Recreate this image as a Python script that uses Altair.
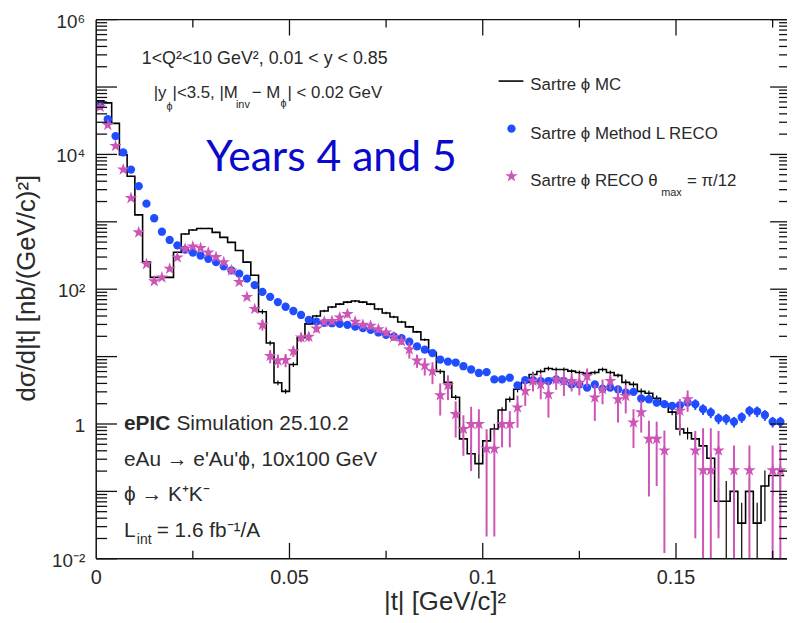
import altair as alt
import numpy as np
import pandas as pd

# ---------------- data ----------------
bin_width = 0.002
n_bins = 89

# Sartre phi MC (histogram, per bin)
mc = [62300, 58200, 28900, 9900, 4750, 1268, 252, 150, 150, 150,
      354, 659, 755, 797, 797, 697, 588, 496, 375, 252,
      161, 46.4, 15.9, 4.10, 3.05, 7.63, 19.0, 30.6, 40.1, 47.5,
      54.4, 60.1, 64.4, 66.7, 64.4, 60.1, 50.8, 44.4, 38.7, 32.7,
      27.6, 23.3, 17.8, 11.5, 6.01, 4.15, 2.49, 0.601, 0.362, 0.258,
      0.562, 0.843, 1.61, 2.33, 3.27, 4.15, 5.43, 6.01, 6.66, 6.44,
      6.44, 6.08, 5.82, 5.63, 5.82, 6.44, 5.82, 5.26, 4.15, 3.87,
      3.05, 2.86, 2.41, 1.97, 1.50, 0.843, 0.738, 0.601, 0.474, 0.31,
      0.0713, 0.0713, 0.1, 0.0338, 0.1, 0.0338, 0.12, 0.172, 0.172]
mc_relerr = [0.02, 0.02, 0.02, 0.02, 0.02, 0.02, 0.02, 0.02, 0.02, 0.02,
             0.02, 0.02, 0.02, 0.02, 0.02, 0.02, 0.02, 0.02, 0.02, 0.02,
             0.02, 0.08, 0.08, 0.08, 0.08, 0.08, 0.04, 0.04, 0.04, 0.04,
             0.04, 0.04, 0.04, 0.04, 0.04, 0.04, 0.04, 0.04, 0.04, 0.04,
             0.04, 0.04, 0.04, 0.08, 0.08, 0.08, 0.08, 0.25, 0.3, 0.4,
             0.25, 0.2, 0.1, 0.1, 0.1, 0.1, 0.1, 0.07, 0.07, 0.07,
             0.07, 0.07, 0.07, 0.07, 0.07, 0.07, 0.07, 0.07, 0.1, 0.1,
             0.1, 0.1, 0.1, 0.1, 0.1, 0.2, 0.2, 0.2, 0.2, 0.2,
             0.6, 1.0, 0.6, 1.0, 0.6, 1.0, 0.7, 0.5, 0.5]

# Sartre phi Method L RECO (blue points)
blue = [53000, 33300, 18700, 10700, 5960, 3380, 1860, 1130, 713, 538,
        448, 387, 350, 316, 283, 252, 218, 190, 170, 144,
        115, 91.2, 77.1, 64.4, 54.9, 47.5, 41.5, 35.0, 33.0, 31.6,
        31.3, 30.6, 29.6, 27.9, 26.4, 24.9, 22.8, 21.1, 19.9, 18.8,
        16.6, 14.2, 12.7, 11.3, 9.04, 8.44, 8.16, 7.20, 6.44, 5.72,
        5.88, 4.59, 4.59, 4.86, 3.75, 4.48, 4.48, 4.34, 4.34, 4.59,
        4.34, 3.87, 3.87, 3.46, 3.87, 3.35, 3.46, 3.27, 2.93, 2.99,
        2.39, 2.33, 2.08, 1.97, 1.86, 1.90, 2.08, 1.97, 1.66, 1.49,
        1.21, 1.19, 1.08, 1.26, 1.57, 1.54, 1.36, 1.08, 1.08]
blue_relerr = [0.02, 0.02, 0.02, 0.02, 0.02, 0.02, 0.02, 0.02, 0.02, 0.02,
               0.02, 0.02, 0.02, 0.02, 0.02, 0.02, 0.02, 0.02, 0.02, 0.02,
               0.02, 0.02, 0.02, 0.02, 0.02, 0.02, 0.02, 0.02, 0.02, 0.02,
               0.02, 0.02, 0.02, 0.02, 0.02, 0.02, 0.02, 0.02, 0.02, 0.02,
               0.04, 0.04, 0.04, 0.04, 0.04, 0.04, 0.04, 0.04, 0.04, 0.04,
               0.07, 0.07, 0.07, 0.07, 0.07, 0.07, 0.07, 0.07, 0.07, 0.07,
               0.1, 0.1, 0.1, 0.1, 0.1, 0.1, 0.1, 0.1, 0.1, 0.1,
               0.12, 0.12, 0.12, 0.12, 0.12, 0.12, 0.12, 0.18, 0.18, 0.18,
               0.18, 0.18, 0.18, 0.18, 0.18, 0.18, 0.18, 0.18, 0.18]

# Sartre phi RECO theta_max = pi/12 (pink stars); None = empty bin
pink = [50800, 27300, 13300, 5960, 2250, 697, 236, 131, 149, 201,
        296, 397, 429, 408, 350, 299, 252, 190, 128, 76.5,
        50.8, 29.6, 10.2, 8.73, 8.93, 12.0, 19.2, 19.7, 26.0, 33.0,
        33.8, 38.1, 42.9, 33.0, 29.6, 28.6, 25.5, 22.8, 19.5, 16.9,
        12.8, 8.73, 7.38, 6.08, 2.67, 3.77, 1.40, 0.843, 1.0, 1.0,
        0.429, 0.429, 1.0, 1.0, 1.76, 3.09, 4.34, 3.87, 2.76, 4.59,
        4.34, 4.34, 4.10, 5.13, 2.47, 3.27, 4.34, 2.33, 2.61, 1.05,
        1.49, 0.601, 0.601, 0.405, None, 1.57, 2.33, 0.405, 0.206, 0.206,
        0.405, None, 0.206, None, 0.206, None, None, 0.206, 0.206]
pink_relerr = [0.03, 0.03, 0.03, 0.03, 0.03, 0.03, 0.03, 0.03, 0.03, 0.03,
               0.03, 0.05, 0.05, 0.05, 0.05, 0.05, 0.05, 0.05, 0.05, 0.05,
               0.05, 0.18, 0.22, 0.22, 0.22, 0.18, 0.15, 0.15, 0.12, 0.12,
               0.12, 0.12, 0.12, 0.12, 0.12, 0.12, 0.12, 0.12, 0.12, 0.12,
               0.27, 0.22, 0.29, 0.36, 0.5, 0.4, 0.55, 0.6, 0.8, 0.65,
               0.95, 0.95, 0.55, 0.55, 0.5, 0.4, 0.3, 0.4, 0.55, 0.3,
               0.4, 0.3, 0.35, 0.3, 0.55, 0.4, 0.25, 0.55, 0.45, 0.58,
               0.5, 0.86, 0.8, 0.97, None, 0.5, 0.35, 0.95, 3.2, 3.2,
               0.95, None, 1.33, None, 1.33, None, None, 1.33, 1.33]

# axis ticks / labels
y_label_vals = [1e-2, 1, 1e2, 1e4, 1e6]
y_label_text = ["10\u207b\u00b2", "1", "10\u00b2", "10\u2074", "10\u2076"]
y_major = [1e-2, 1e-1, 1, 1e1, 1e2, 1e3, 1e4, 1e5, 1e6]
y_minor = [k * 10.0 ** n for n in range(-2, 6) for k in range(2, 10)]
x_label_vals = [0, 0.05, 0.1, 0.15]
x_label_text = ["0", "0.05", "0.1", "0.15"]
x_major = [0.05, 0.1, 0.15]
x_minor = [0.025, 0.075, 0.125, 0.175]

# ---------------- layout / style ----------------
W, H = 697, 544
XMAX = W / 3900.0
FONT = "Liberation Sans"
TXT = "#2a2a2a"
BLUE = "#1f4dff"
PINK = "#cc55b6"
FRAME = "#111111"
STAR = ("M0,-1L0.2245,-0.309L0.9511,-0.309L0.3633,0.118L0.5878,0.809"
        "L0,0.382L-0.5878,0.809L-0.3633,0.118L-0.9511,-0.309L-0.2245,-0.309Z")

xs = alt.Scale(domain=[0, XMAX], nice=False, zero=False)
ys = alt.Scale(type="log", domain=[1e-2, 1e6], nice=False)

t = [round(bin_width * (i + 0.5), 4) for i in range(n_bins)]
df = pd.DataFrame({"t": t, "mc": mc, "mc_e": mc_relerr, "blue": blue,
                   "blue_e": blue_relerr, "pink": pink, "pink_e": pink_relerr})
df["mc_lo"] = np.clip(df.mc * (1 - df.mc_e), 1e-4, None)
df["mc_hi"] = df.mc * (1 + df.mc_e)
df["blue_lo"] = df.blue * (1 - df.blue_e)
df["blue_hi"] = df.blue * (1 + df.blue_e)
dp = df.dropna(subset=["pink"]).copy()
dp["pink_lo"] = np.clip(dp.pink * (1 - dp.pink_e.astype(float)), 1e-4, None)
dp["pink_hi"] = dp.pink * (1 + dp.pink_e.astype(float))

edges = [round(bin_width * i, 4) for i in range(n_bins + 1)]
dstep = pd.DataFrame({"edge": edges, "mc": mc + [mc[-1]]})

one = alt.Data(values=[{}])


def X(f):
    return alt.X(f, type="quantitative", scale=xs, axis=None)


def Y(f):
    return alt.Y(f, type="quantitative", scale=ys, axis=None)


mc_line = alt.Chart(dstep).mark_line(
    interpolate="step-after", color="black", strokeWidth=1.6, clip=True
).encode(x=X("edge"), y=Y("mc"))
mc_err = alt.Chart(df).mark_rule(color="black", strokeWidth=1.2, clip=True).encode(
    x=X("t"), y=Y("mc_lo"), y2="mc_hi")

blue_err = alt.Chart(df).mark_rule(color=BLUE, strokeWidth=2, clip=True).encode(
    x=X("t"), y=Y("blue_lo"), y2="blue_hi")
blue_pts = alt.Chart(df).mark_point(
    filled=True, shape="circle", size=70, color=BLUE, opacity=1, clip=True
).encode(x=X("t"), y=Y("blue"))

pink_err = alt.Chart(dp).mark_rule(color=PINK, strokeWidth=2, clip=True).encode(
    x=X("t"), y=Y("pink_lo"), y2="pink_hi")
pink_pts = alt.Chart(dp).mark_point(
    filled=True, shape=STAR, size=175, color=PINK, opacity=1, clip=True
).encode(x=X("t"), y=Y("pink"))


def yticks(vals, x0, x1):
    return alt.Chart(pd.DataFrame({"v": vals})).mark_rule(
        color=FRAME, strokeWidth=1.3).encode(y=Y("v"), x=alt.value(x0), x2=alt.value(x1))


def xticks(vals, y0, y1):
    return alt.Chart(pd.DataFrame({"v": vals})).mark_rule(
        color=FRAME, strokeWidth=1.3).encode(x=X("v"), y=alt.value(y0), y2=alt.value(y1))


ticks = [
    yticks(y_major, 0, 21), yticks(y_minor, 0, 11),
    yticks(y_major, W - 17, W), yticks(y_minor, W - 8, W),
    xticks(x_major, H - 16, H), xticks(x_minor, H - 8, H),
    xticks(x_major, 0, 16), xticks(x_minor, 0, 8),
]
frame = [
    alt.Chart(one).mark_rule(color=FRAME, strokeWidth=1.5).encode(
        x=alt.value(0), y=alt.value(0), y2=alt.value(H)),
    alt.Chart(one).mark_rule(color=FRAME, strokeWidth=1.5).encode(
        x=alt.value(0), x2=alt.value(W), y=alt.value(0)),
    alt.Chart(one).mark_rule(color=FRAME, strokeWidth=1.5).encode(
        x=alt.value(0), x2=alt.value(W), y=alt.value(H)),
]

ylab = alt.Chart(pd.DataFrame({"v": y_label_vals, "s": y_label_text})).mark_text(
    align="right", baseline="middle", font=FONT, fontSize=19, color=TXT, dy=2
).encode(y=Y("v"), x=alt.value(-11), text="s:N")
xlab = alt.Chart(pd.DataFrame({"v": x_label_vals, "s": x_label_text})).mark_text(
    align="center", baseline="middle", font=FONT, fontSize=20, color=TXT
).encode(x=X("v"), y=alt.value(H + 19), text="s:N")


def txt(s, x, y, size, color=TXT, font=FONT, weight="normal", align="left",
        baseline="middle", angle=0):
    return alt.Chart(one).mark_text(
        text=s, fontSize=size, color=color, font=font, fontWeight=weight,
        align=align, baseline=baseline, angle=angle
    ).encode(x=alt.value(x), y=alt.value(y))


texts = [
    txt("1<Q\u00b2<10 GeV\u00b2, 0.01 < y < 0.85", 46, 40, 18),
    txt("|y", 58, 74, 17), txt("\u03d5", 71, 88, 11),
    txt("|<3.5, |M", 77, 74, 17), txt("inv", 141, 86, 11),
    txt("\u2212 M", 157, 74, 17), txt("\u03d5", 186, 85, 11),
    txt("| < 0.02 GeV", 193, 74, 17),
    txt("Years 4 and 5", 111, 153, 43, color="#0a0acc", font="Lato",
        baseline="alphabetic"),
    # legend
    txt("Sartre \u03d5 MC", 438, 66, 17),
    txt("Sartre \u03d5 Method L RECO", 438, 115, 17),
    txt("Sartre \u03d5 RECO \u03b8", 438, 163, 17),
    txt("max", 570, 175, 11),
    txt("= \u03c0/12", 596, 163, 17),
    # bottom-left
    txt("ePIC", 28, 408, 21, weight="bold"),
    txt("Simulation 25.10.2", 81, 408, 21),
    txt("eAu \u2192 e'Au'\u03d5, 10x100 GeV", 28, 444, 21),
    txt("\u03d5 \u2192 K\u207aK\u207b", 28, 480, 21),
    txt("L", 28, 516, 21), txt("int", 41, 525, 14),
    txt("= 1.6 fb\u207b\u00b9/A", 61, 516, 21),
    # axis titles
    txt("d\u03c3/d|t| [nb/(GeV/c)\u00b2]", -62, 271, 26, align="center",
        baseline="alphabetic", angle=270),
    txt("|t| [GeV/c]\u00b2", 352, H + 52, 26, align="center", baseline="alphabetic"),
]

legend = [
    alt.Chart(one).mark_rule(color="black", strokeWidth=1.6).encode(
        x=alt.value(406), x2=alt.value(431), y=alt.value(62)),
    alt.Chart(one).mark_point(filled=True, shape="circle", size=70, color=BLUE,
                              opacity=1).encode(x=alt.value(419), y=alt.value(110)),
    alt.Chart(one).mark_point(filled=True, shape=STAR, size=175, color=PINK,
                              opacity=1).encode(x=alt.value(419), y=alt.value(158)),
]

chart = alt.layer(
    mc_line, mc_err, blue_err, blue_pts, pink_err, pink_pts,
    *ticks, *frame, ylab, xlab, *legend, *texts
).properties(
    width=W, height=H,
    autosize=alt.AutoSizeParams(type="none"),
    padding={"left": 89, "top": 9, "right": 0, "bottom": 55},
    background="white",
).configure_view(stroke=None)

chart.save("out.html", embed_options={"renderer": "svg", "actions": False})
